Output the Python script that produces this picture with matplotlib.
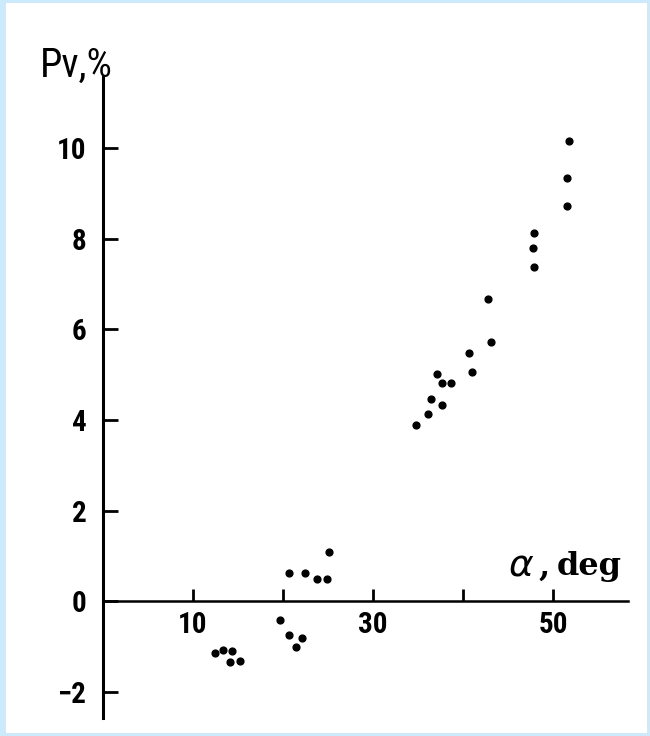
import matplotlib
matplotlib.use("Agg")
import matplotlib.pyplot as plt
from matplotlib.patches import Rectangle
from matplotlib import font_manager

# data
alpha_deg = [12.4, 13.3, 14.3, 14.1, 15.2,
             19.7, 20.7, 22.1, 21.4, 20.7, 22.4, 23.8, 24.9, 25.1,
             34.8, 36.1, 36.4, 37.7, 37.1, 37.6, 38.6, 40.6, 41.0, 42.7, 43.1,
             47.9, 47.8, 47.9, 51.7, 51.5, 51.5]
pv_percent = [-1.15, -1.07, -1.10, -1.35, -1.33,
              -0.42, -0.75, -0.82, -1.02, 0.61, 0.61, 0.48, 0.49, 1.08,
              3.89, 4.13, 4.47, 4.33, 5.01, 4.81, 4.81, 5.48, 5.05, 6.67, 5.72,
              8.12, 7.80, 7.37, 10.16, 9.35, 8.72]
x_ticks = [10, 20, 30, 40, 50]
x_tick_labels = ["10", "", "30", "", "50"]
y_ticks = [-2, 0, 2, 4, 6, 8, 10]
y_tick_labels = ["\u22122", "0", "2", "4", "6", "8", "10"]

W, H = 650, 736
fig = plt.figure(figsize=(W / 100, H / 100), dpi=100)
fig.patch.set_facecolor("#cdeafc")
fig.patches.append(Rectangle((6 / W, 3 / H), (W - 9) / W, (H - 6) / H,
                             transform=fig.transFigure, facecolor="white",
                             edgecolor="none", zorder=-10))

ax = fig.add_axes([103 / W, 18 / H, 525 / W, 641 / H])
ax.set_facecolor("none")
ax.set_xlim(0, 58.3)
ax.set_ylim(-2.58, 11.57)

for s in ("top", "right"):
    ax.spines[s].set_visible(False)
ax.spines["bottom"].set_position(("data", 0))
ax.spines["left"].set_linewidth(2.2)
ax.spines["bottom"].set_linewidth(1.8)

names = {f.name for f in font_manager.fontManager.ttflist}
font = [n for n in ["Liberation Sans Narrow", "Roboto Condensed", "Liberation Sans", "DejaVu Sans"] if n in names]

ax.set_xticks(x_ticks)
ax.set_xticklabels(x_tick_labels, family=font, fontsize=21, fontweight="bold")
ax.set_yticks(y_ticks)
ax.set_yticklabels(y_tick_labels, family=font, fontsize=21, fontweight="bold")
ax.tick_params(axis="x", direction="in", length=9, width=2, pad=7)
ax.tick_params(axis="y", direction="in", length=11, width=2, pad=12)

ax.scatter(alpha_deg, pv_percent, s=24, color="black", zorder=3, clip_on=False)

fig.text(40 / W, 1 - 77 / H, "Pv,%", family=font, fontsize=29,
         ha="left", va="baseline")
ax.text(45.0, 0.57, r"$\alpha$", fontsize=27, ha="left", va="baseline")
ax.text(48.4, 0.57, ",", family="DejaVu Serif", fontsize=23,
        fontweight="bold", ha="left", va="baseline")
ax.text(50.4, 0.57, "deg", family="DejaVu Serif", fontsize=23,
        fontweight="bold", ha="left", va="baseline")

fig.savefig("out.png", dpi=100)
